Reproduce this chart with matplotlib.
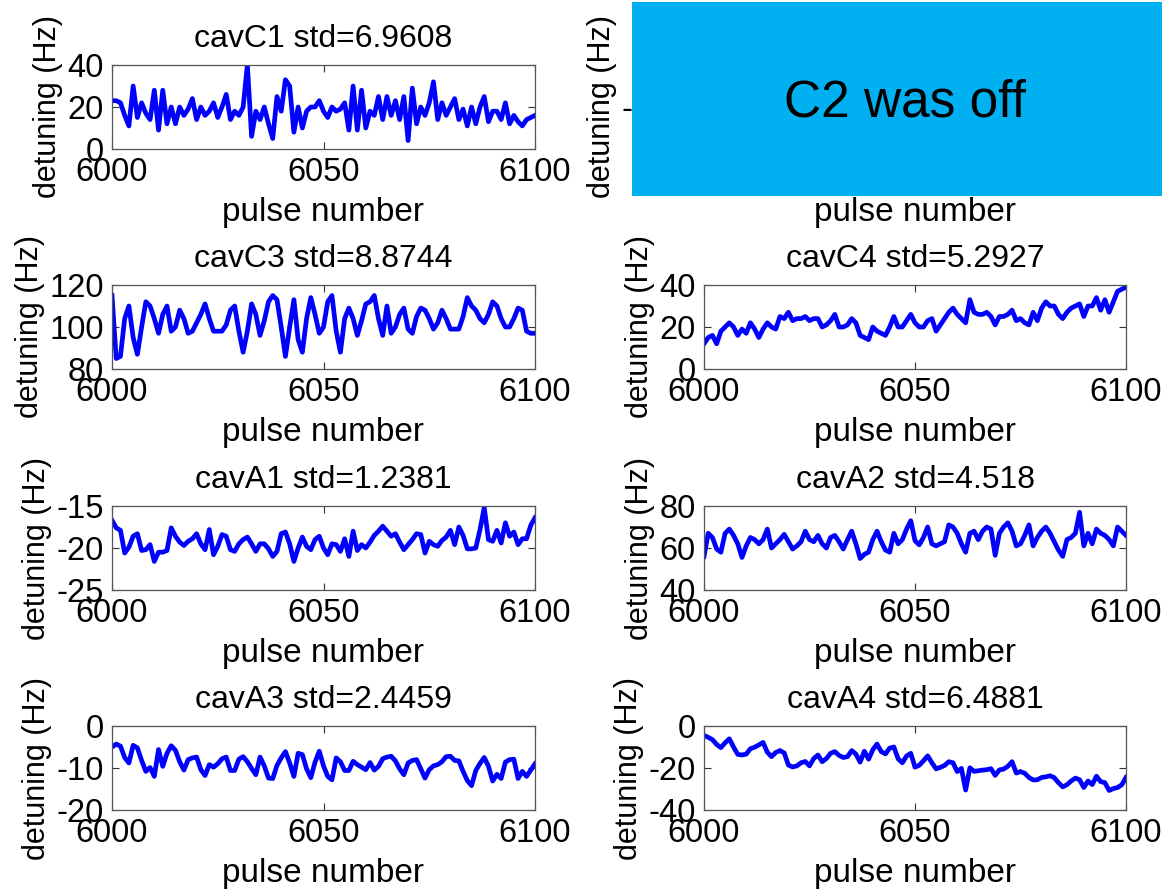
import matplotlib
matplotlib.use("Agg")
import matplotlib.pyplot as plt
from matplotlib.patches import Rectangle
import numpy as np

plt.rcParams['font.family'] = ['Liberation Sans', 'DejaVu Sans']
plt.rcParams['axes.unicode_minus'] = False

pulse = np.arange(6000, 6101)

# detuning traces (Hz), one value per pulse 6000..6100
cavC1 = [23, 23, 22, 16, 11, 30, 15, 22, 17, 14, 28, 9, 28, 12, 20, 12, 20, 16, 19, 24,
         14, 20, 16, 18, 22, 15, 20, 26, 14, 18, 16, 20, 40, 6, 18, 14, 20, 12, 5, 25,
         18, 33, 30, 8, 20, 10, 18, 20, 20, 23, 18, 15, 20, 18, 19, 22, 9, 30, 9, 28,
         10, 18, 16, 25, 14, 25, 16, 23, 14, 25, 4, 29, 12, 20, 16, 22, 32, 14, 22, 16,
         20, 24, 14, 19, 11, 20, 12, 20, 25, 13, 18, 18, 14, 22, 12, 16, 13, 11, 14, 15, 16]
cavC3 = [115, 85, 86, 104, 110, 95, 87, 100, 112, 110, 104, 97, 106, 110, 98, 100, 108, 104, 97, 98,
         102, 106, 111, 104, 98, 98, 98, 101, 108, 110, 98, 88, 98, 111, 106, 96, 103, 112, 115, 113,
         100, 86, 100, 113, 94, 88, 104, 114, 106, 97, 100, 112, 115, 98, 88, 104, 109, 104, 96, 103,
         111, 112, 115, 104, 96, 110, 97, 100, 106, 109, 99, 97, 105, 109, 108, 104, 99, 102, 108, 104,
         99, 99, 99, 105, 114, 110, 108, 104, 102, 106, 112, 110, 104, 100, 100, 104, 109, 108, 98, 97, 97]
cavC4 = [12, 15, 16, 12, 18, 20, 22, 20, 16, 19, 17, 22, 19, 15, 19, 22, 20, 19, 25, 24,
         27, 23, 24, 24, 25, 23, 24, 24, 20, 21, 23, 26, 20, 20, 21, 24, 22, 16, 15, 14,
         20, 18, 17, 16, 20, 25, 20, 20, 23, 26, 22, 20, 20, 23, 24, 18, 21, 24, 27, 29,
         26, 24, 22, 33, 27, 26, 26, 27, 25, 21, 25, 25, 26, 28, 23, 24, 22, 21, 27, 23,
         29, 32, 30, 30, 26, 24, 27, 29, 30, 31, 25, 30, 30, 34, 28, 33, 27, 32, 37, 38, 39]
cavA1 = [-16.7, -17.6, -17.9, -20.6, -19.9, -18.6, -18.3, -20.3, -20.2, -19.6,
         -21.6, -20.5, -20.5, -20.3, -17.6, -18.6, -19.3, -19.7, -19.2, -18.9,
         -18.3, -19.5, -20.2, -17.8, -20.8, -19.8, -18.4, -18.6, -20.2, -20.4,
         -19.5, -19.0, -18.7, -19.5, -20.4, -19.5, -19.5, -20.1, -21.0, -20.4,
         -18.3, -18.1, -19.5, -21.6, -20.0, -18.7, -19.8, -20.2, -19.0, -18.6,
         -20.0, -20.8, -19.5, -19.6, -20.4, -18.9, -21.0, -18.0, -20.3, -19.6,
         -20.0, -19.3, -18.5, -18.0, -17.4, -18.0, -18.6, -18.3, -19.3, -20.2,
         -19.6, -19.0, -18.3, -18.4, -20.6, -19.2, -19.6, -19.8, -19.1, -18.7,
         -17.9, -19.6, -17.5, -18.5, -20.1, -20.1, -20.0, -17.8, -15.2, -19.0,
         -19.2, -17.9, -19.4, -17.0, -18.6, -18.1, -19.6, -18.9, -18.9, -17.3, -16.4]
cavA2 = [56, 67, 65, 59.5, 58, 67, 69, 66, 62, 55.5, 61, 65, 64, 62, 64, 69, 60, 62, 64, 66.5,
         63, 59.5, 61, 63, 68, 64, 63, 66, 62, 60, 65, 66, 63, 59.5, 64, 68, 62, 55, 57, 58,
         64, 68, 63, 59, 58, 67, 62, 64, 69, 73, 63.5, 61.5, 65, 70, 62, 61, 62, 63, 71, 70,
         67, 62, 58, 67, 68, 64, 68, 70, 69, 56.5, 67, 70, 72, 68, 61, 62, 66, 71, 61, 65,
         68, 70, 67, 63, 59, 56, 64, 65, 67, 77, 61, 67, 62, 69, 67, 66, 64, 61, 70, 68, 66]
cavA3 = [-5.0, -4.3, -4.8, -7.5, -8.8, -4.6, -5.2, -8.2, -10.8, -9.9,
         -12.0, -5.6, -9.6, -6.5, -4.7, -5.8, -8.5, -10.5, -8.0, -7.6,
         -7.4, -10.4, -11.8, -9.2, -9.8, -9.0, -7.8, -7.4, -10.6, -10.6,
         -7.9, -7.3, -8.5, -10.1, -11.6, -7.4, -9.5, -12.4, -12.5, -9.4,
         -7.6, -6.1, -8.8, -12.0, -6.5, -6.8, -10.2, -12.3, -8.6, -6.0,
         -9.5, -12.0, -12.8, -7.6, -8.5, -10.6, -10.6, -8.4, -9.2, -9.8,
         -10.4, -8.7, -10.5, -9.6, -7.8, -7.4, -7.2, -8.3, -10.2, -11.6,
         -8.8, -8.2, -8.0, -10.2, -12.4, -10.4, -9.5, -9.2, -8.5, -7.3,
         -7.2, -8.2, -8.3, -10.8, -13.0, -14.2, -10.6, -8.9, -7.5, -9.6,
         -13.1, -11.5, -12.5, -8.6, -8.0, -7.9, -12.5, -10.8, -12.0, -10.5, -9.0]
cavA4 = [-4.5, -5.4, -6.5, -8.8, -10.3, -8.0, -6.1, -10.0, -13.5, -13.8,
         -13.4, -10.8, -10.1, -9.0, -7.8, -12.5, -14.6, -12.6, -11.7, -12.8,
         -18.6, -19.5, -19.0, -17.5, -16.9, -19.0, -15.5, -13.8, -17.0, -15.5,
         -13.0, -12.2, -14.0, -15.0, -14.6, -11.7, -13.4, -17.2, -12.0, -15.8,
         -11.3, -8.6, -12.2, -13.3, -10.5, -10.0, -15.6, -17.5, -14.3, -13.0,
         -19.6, -18.7, -16.6, -14.2, -17.5, -20.4, -19.7, -18.8, -17.0, -17.5,
         -21.7, -20.2, -30.5, -19.9, -21.6, -21.3, -21.0, -20.8, -20.3, -23.5,
         -20.9, -20.5, -19.2, -17.0, -22.4, -21.7, -22.5, -24.5, -25.7, -25.6,
         -24.5, -24.2, -23.7, -24.6, -27.0, -29.0, -28.0, -26.2, -24.8, -25.6,
         -29.3, -26.2, -27.9, -23.9, -26.5, -27.0, -30.7, -29.8, -29.3, -28.0, -24.5]

names = ['cavC1', 'cavC2', 'cavC3', 'cavC4', 'cavA1', 'cavA2', 'cavA3', 'cavA4']
stds = ['6.9608', None, '8.8744', '5.2927', '1.2381', '4.518', '2.4459', '6.4881']
series = [cavC1, None, cavC3, cavC4, cavA1, cavA2, cavA3, cavA4]
ylims = [(0, 40), (-1001, -999), (80, 120), (0, 40), (-25, -15), (40, 80), (-20, 0), (-40, 0)]
yticks = [[0, 20, 40], [-1000], [80, 100, 120], [0, 20, 40],
          [-25, -20, -15], [40, 60, 80], [-20, -10, 0], [-40, -20, 0]]

W, H = 1162, 890
fig = plt.figure(figsize=(W / 100, H / 100), dpi=100)

lefts = [112, 704]
widths = [423, 422]
bottoms = [149, 369, 590, 810]
ax_h = 84

for k in range(8):
    r, c = divmod(k, 2)
    ax = fig.add_axes([lefts[c] / W, 1 - bottoms[r] / H, widths[c] / W, ax_h / H])
    if series[k] is not None:
        ax.plot(pulse, series[k], color='#0000ff', lw=3.4)
        ax.set_title(f"{names[k]} std={stds[k]}", fontsize=23, pad=13)
    ax.set_xlim(6000, 6100)
    ax.set_ylim(*ylims[k])
    ax.set_xticks([6000, 6050, 6100])
    ax.set_yticks(yticks[k])
    ax.tick_params(direction='in', top=True, right=True, length=5, width=0.8,
                   color='#333333', labelsize=23.5, pad=6)
    if series[k] is None:
        ax.tick_params(axis='y', pad=-0.5)
    for s in ax.spines.values():
        s.set_color('#555555')
        s.set_linewidth(0.9)
    ax.set_xlabel('pulse number', fontsize=24, labelpad=6)
    ax.set_ylabel('detuning (Hz)', fontsize=22, labelpad=3)

# overlay box covering the C2 panel
fig.patches.append(Rectangle((632 / W, 1 - 196 / H), 1 - 632 / W, 194 / H,
                             transform=fig.transFigure, facecolor='#00b0f0',
                             edgecolor='none', zorder=10))
fig.text(905 / W, 1 - 103 / H, 'C2 was off', fontsize=37, ha='center', va='center',
         color='black', zorder=11)

fig.savefig('out.png', dpi=100)
